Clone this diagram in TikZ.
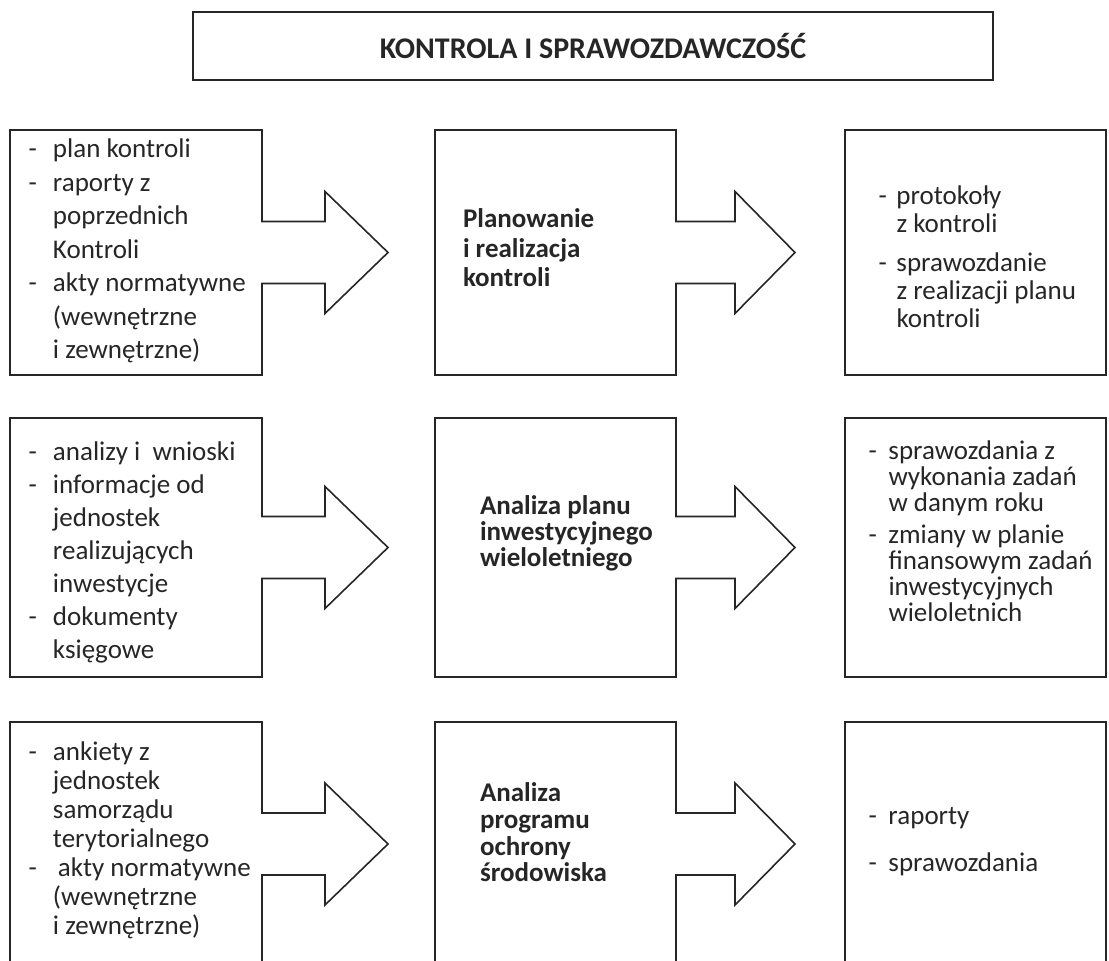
\documentclass[tikz,border=0pt]{standalone}
\usepackage{fontspec}
\setmainfont{Carlito}
\usetikzlibrary{calc}

% list helpers: a hanging dash and the matching indent for follow-on lines
\newcommand\itm[1][12.25pt]{\makebox[#1][l]{-}}
\newcommand\cnt[1][12.25pt]{\hspace*{#1}}
\newcommand\fst{\rule{0pt}{11pt}}

% box outline merged with a block arrow leaving its right side
% #1 box node, #2 x of the arrow head base, #3 x of the tip (both from the box's east side)
\newcommand\blockarrow[3]{%
  \draw[outline] (#1.south east) -- ($(#1.east)+(0,31)$) -- ($(#1.east)+(#2,31)$)
    -- ($(#1.east)+(#2,61)$) -- ($(#1.east)+(#3,0)$) -- ($(#1.east)+(#2,-61)$)
    -- ($(#1.east)+(#2,-31)$) -- ($(#1.east)+(0,-31)$) -- (#1.north east)
    -- (#1.north west) -- (#1.south west) -- cycle;}

\begin{document}
\begin{tikzpicture}[x=0.5pt,y=-0.5pt,
  outline/.style={draw=black!85,line width=0.8pt,line join=miter},
  slot/.style={inner sep=0pt,outer sep=0pt},
  colL/.style={minimum width=126pt},
  colM/.style={minimum width=120.5pt},
  colR/.style={minimum width=130.5pt},
  rowA/.style={minimum height=122.5pt},
  rowB/.style={minimum height=129.5pt},
  rowC/.style={minimum height=122pt},
  txt/.style={inner sep=0pt,outer sep=0pt,anchor=north west,align=left,text=black!85},
  reg/.style={font=\fontsize{13.5}{#1}\selectfont},
  bld/.style={font=\bfseries\fontsize{13.5}{#1}\selectfont}]

\useasboundingbox (0,0) rectangle (1109,961);
\clip (0,0) rectangle (1109,961);

% heading
\node[outline,line width=0.6pt,minimum width=400pt,minimum height=34pt,text=black!85,
  font=\bfseries\fontsize{15}{18}\selectfont] (title) at (593,46) {KONTROLA I SPRAWOZDAWCZOŚĆ};

% frames of the three rows
\node[slot,colL,rowA] (in1) at (136,252.5) {};
\node[slot,colM,rowA] (pr1) at (555.5,252.5) {};
\node[slot,colR,rowA,outline] (out1) at (975.5,252.5) {};

\node[slot,colL,rowB] (in2) at (136,547.5) {};
\node[slot,colM,rowB] (pr2) at (555.5,547.5) {};
\node[slot,colR,rowB,outline] (out2) at (975.5,547.5) {};

\node[slot,colL,rowC] (in3) at (136,844) {};
\node[slot,colM,rowC] (pr3) at (555.5,844) {};
\node[slot,colR,rowC,outline] (out3) at (975.5,844) {};

\blockarrow{in1}{63}{126}
\blockarrow{pr1}{59}{119}
\blockarrow{in2}{63}{126}
\blockarrow{pr2}{59}{119}
\blockarrow{in3}{63}{126}
\blockarrow{pr3}{59}{119}

% row 1
\node[txt,reg=16.75pt] (tin1) at (28.5,136) {\fst\itm plan kontroli\\\itm raporty z\\\cnt poprzednich\\\cnt Kontroli\\\itm akty normatywne\\\cnt (wewnętrzne\\\cnt i zewnętrzne)};
\node[txt,bld=14.75pt] (tpr1) at (463,206) {\fst Planowanie\\i realizacja\\kontroli};
\node[txt,reg=14pt] (tout1) at (878.5,183) {\fst\itm[9pt]protokoły\\\cnt[9pt]z kontroli\\[5.5pt]\itm[9pt]sprawozdanie\\\cnt[9pt]z realizacji planu\\\cnt[9pt]kontroli};

% row 2
\node[txt,reg=16.5pt] (tin2) at (28.5,439) {\fst\itm analizy i\ \ wnioski\\\itm informacje od\\\cnt jednostek\\\cnt realizujących\\\cnt inwestycje\\\itm dokumenty\\\cnt księgowe};
\node[txt,bld=13pt] (tpr2) at (480,493) {\fst Analiza planu\\inwestycyjnego\\wieloletniego};
\node[txt,reg=13pt] (tout2) at (868.5,438) {\fst\itm[10pt]sprawozdania z\\\cnt[10pt]wykonania zadań\\\cnt[10pt]w danym roku\\[3pt]\itm[10pt]zmiany w planie\\\cnt[10pt]finansowym zadań\\\cnt[10pt]inwestycyjnych\\\cnt[10pt]wieloletnich};

% row 3
\node[txt,reg=14.5pt] (tin3) at (28.5,739) {\fst\itm ankiety z\\\cnt jednostek\\\cnt samorządu\\\cnt terytorialnego\\\itm[14.75pt]akty normatywne\\\cnt (wewnętrzne\\\cnt i zewnętrzne)};
\node[txt,bld=13.3pt] (tpr3) at (480,780) {\fst Analiza\\programu\\ochrony\\środowiska};
\node[txt,reg=13pt] (tout3) at (868.5,803) {\fst\itm[10pt]raporty\\[10.5pt]\itm[10pt]sprawozdania};

\end{tikzpicture}
\end{document}
